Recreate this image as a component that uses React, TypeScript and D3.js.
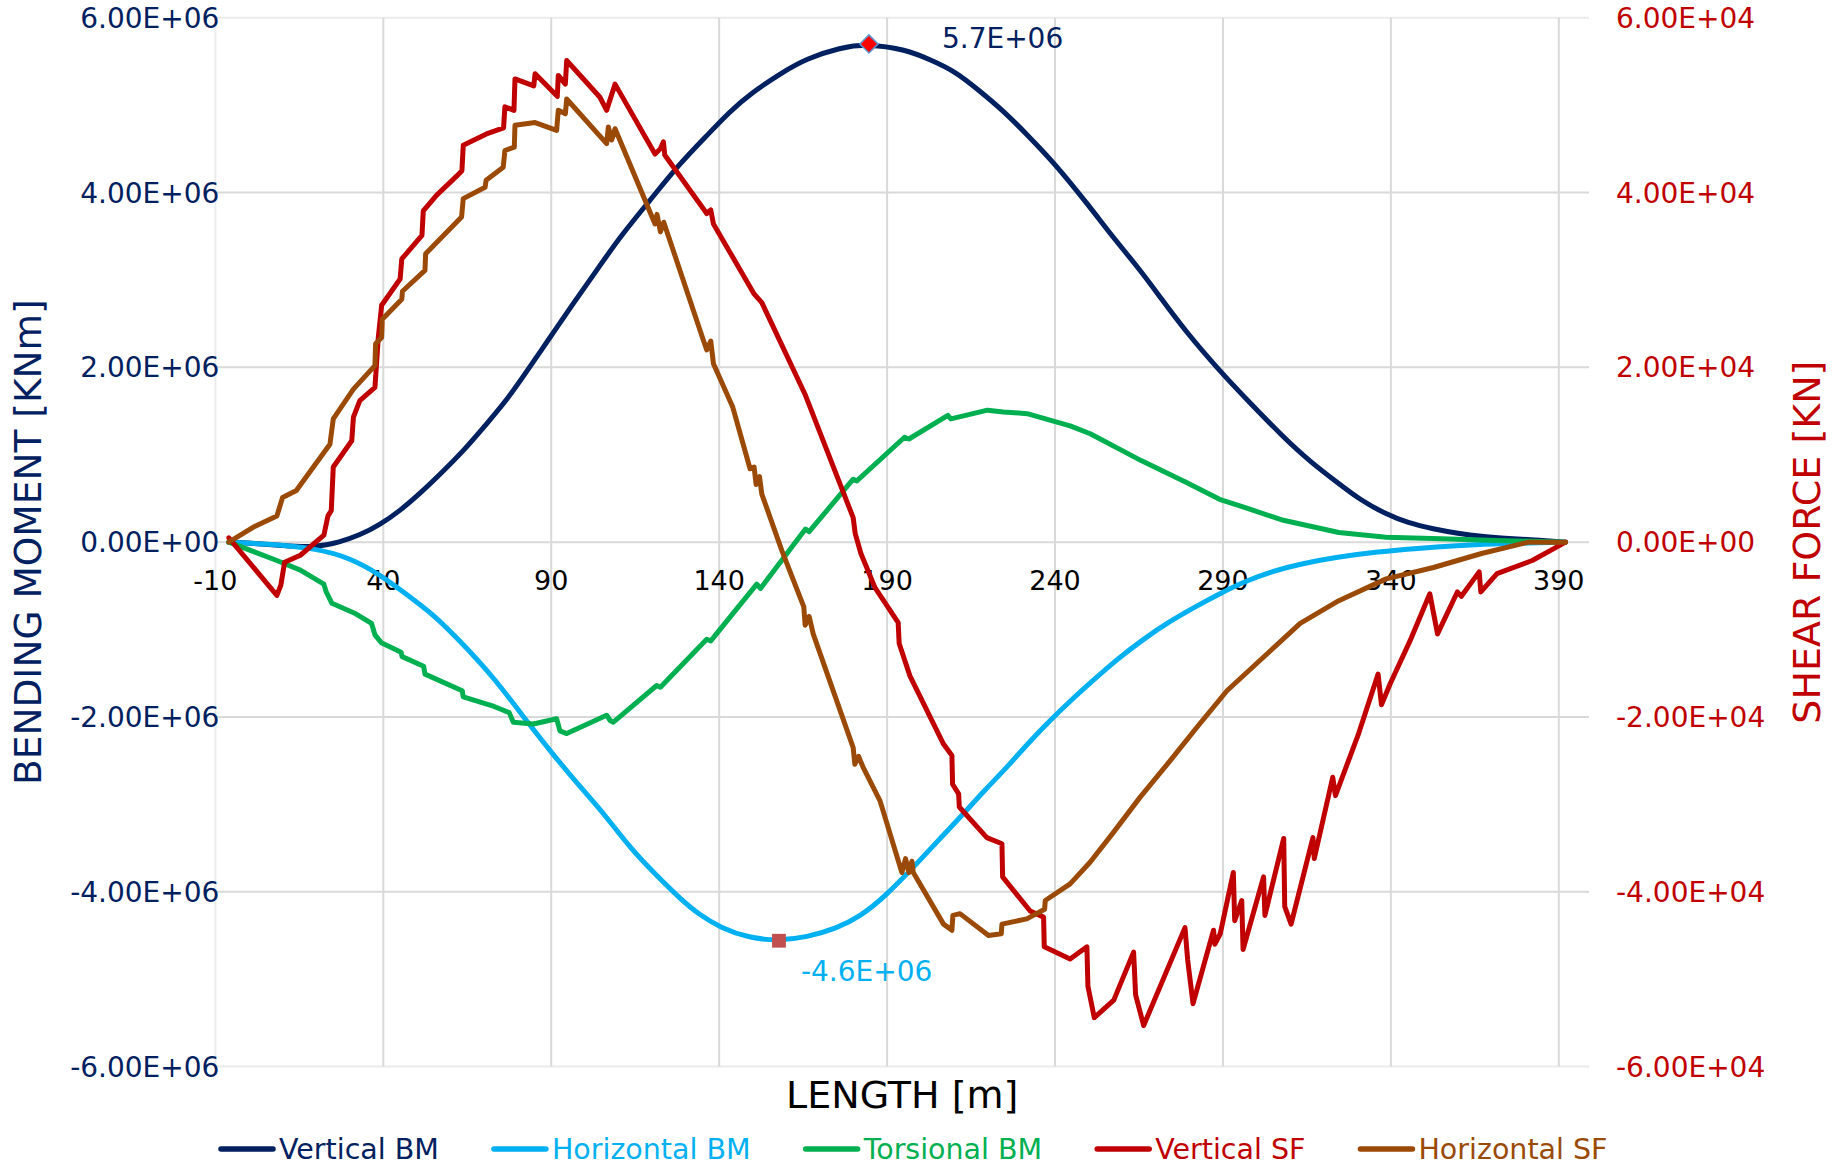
import React, { useEffect, useRef } from 'react'
import * as d3 from 'd3'

const W = 1846
const H = 1165
const BM_UNIT = 1e6
const SF_UNIT = 1e4

// [length m, value / unit]
const verticalBM = [
  [-6, 0], [0, -0.01], [10, -0.04], [20, -0.06], [27, 0.0], [33, 0.08], [39, 0.2], [45, 0.36],
  [51, 0.56], [57, 0.78], [64, 1.05], [70, 1.32], [76.7, 1.62], [83, 1.97], [89.6, 2.34], [96, 2.7],
  [103.5, 3.11], [111, 3.52], [119.4, 3.91], [128, 4.32], [136.3, 4.65], [143, 4.92], [149.2, 5.13],
  [159, 5.38], [166, 5.53], [176, 5.66], [184.6, 5.7], [195, 5.64], [203, 5.52], [210.5, 5.38],
  [217, 5.18], [224.5, 4.94], [232, 4.65], [240, 4.33], [250.5, 3.83], [257, 3.5], [264.6, 3.15],
  [271, 2.82], [278.7, 2.42], [289, 1.96], [297.4, 1.62], [308, 1.2], [316, 0.92], [324.5, 0.67],
  [331, 0.48], [338.6, 0.32], [345, 0.22], [352.7, 0.15], [360, 0.1], [367, 0.064], [374, 0.045],
  [381, 0.03], [392, 0]
]

const horizontalBM = [
  [-6, 0], [5, -0.02], [20, -0.07], [30, -0.18], [39, -0.37], [47, -0.6], [55.3, -0.84],
  [62.8, -1.13], [73, -1.55], [83.7, -2.1], [91, -2.45], [98.6, -2.8], [106, -3.12], [113.5, -3.5],
  [121, -3.8], [128.4, -4.08], [134, -4.26], [140.3, -4.41], [149, -4.53], [157.8, -4.56],
  [166, -4.52], [175, -4.42], [182, -4.28], [189.3, -4.06], [199.8, -3.64], [206, -3.38],
  [212.7, -3.11], [219, -2.84], [225.6, -2.58], [232, -2.3], [238.5, -2.04], [245, -1.8],
  [251.4, -1.58], [258.5, -1.34], [266.3, -1.11], [274, -0.91], [282.2, -0.73], [289.5, -0.58],
  [297.1, -0.44], [305, -0.33], [313, -0.25], [324, -0.17], [336.2, -0.11], [348, -0.07],
  [359.8, -0.04], [370, -0.02], [381, -0.01], [392, 0]
]

const torsionalBM = [
  [-6, 0], [8.3, -0.21], [15.3, -0.32], [22.3, -0.48], [23, -0.57], [24.7, -0.7], [31.8, -0.82],
  [36.5, -0.93], [37.5, -1.06], [39.4, -1.15], [45.3, -1.26], [45.6, -1.31], [52, -1.42],
  [52.4, -1.51], [63.5, -1.7], [63.8, -1.77], [73, -1.88], [77.5, -1.95], [78.7, -2.06],
  [84.7, -2.08], [91.6, -2.02], [92.6, -2.16], [94.6, -2.19], [106.5, -1.98], [107.5, -2.04],
  [108.5, -2.06], [121.4, -1.64], [122.5, -1.66], [136.3, -1.11], [137.5, -1.13], [151.2, -0.48],
  [152.3, -0.53], [165.7, 0.15], [166.8, 0.12], [179.9, 0.72], [181, 0.7], [195.2, 1.2],
  [196.5, 1.18], [208.1, 1.45], [209, 1.41], [219.9, 1.51], [224.6, 1.49], [231.7, 1.47],
  [244.5, 1.33], [250.5, 1.24], [265.8, 0.93], [278.7, 0.69], [289, 0.49], [296.2, 0.4],
  [308, 0.25], [324.5, 0.11], [338.6, 0.056], [355, 0.04], [371.6, 0.02], [392, 0]
]

const verticalSF = [
  [-6, 0.05], [8.3, -0.61], [9.5, -0.49], [10.6, -0.23], [15.3, -0.15], [22.3, 0.08], [23.5, 0.3],
  [24.5, 0.36], [25.1, 0.86], [30.6, 1.16], [31.1, 1.43], [33, 1.62], [37.5, 1.77], [38.5, 2.34],
  [39.5, 2.71], [45, 3.01], [45.5, 3.24], [51.5, 3.51], [51.9, 3.79], [55.9, 3.97], [61.9, 4.19],
  [63.4, 4.25], [63.8, 4.54], [70.7, 4.67], [75.8, 4.74], [76.2, 4.98], [78.9, 4.94], [79.2, 5.3],
  [84.8, 5.22], [85.2, 5.36], [91.8, 5.1], [92.1, 5.34], [94.2, 5.24], [94.6, 5.51], [104.5, 5.09],
  [106.5, 4.94], [109, 5.24], [120.9, 4.44], [122.5, 4.5], [123.4, 4.58], [123.8, 4.43],
  [136.3, 3.76], [137.5, 3.8], [138.3, 3.64], [149.2, 2.92], [150.4, 2.84], [152.7, 2.74],
  [165.7, 1.68], [179.9, 0.28], [180.5, 0.1], [182.2, -0.13], [186.4, -0.52], [193.3, -0.92],
  [193.6, -1.16], [196.8, -1.53], [206.8, -2.31], [209.3, -2.44], [209.5, -2.77], [211.3, -2.88],
  [211.5, -3.03], [219.7, -3.38], [224.2, -3.45], [224.4, -3.83], [232.6, -4.22], [236.6, -4.29],
  [236.8, -4.63], [244.5, -4.77], [249.5, -4.63], [249.8, -5.08], [251.7, -5.44], [257.5, -5.24],
  [263.4, -4.69], [264, -5.18], [266.4, -5.53], [278.7, -4.41], [279.5, -4.78], [281.1, -5.28],
  [287.2, -4.44], [287.6, -4.6], [289.2, -4.48], [293.1, -3.78], [293.5, -4.33], [295.6, -4.1],
  [296, -4.66], [302.1, -3.83], [302.5, -4.27], [308.1, -3.39], [308.4, -4.17], [310.3, -4.37],
  [316.8, -3.38], [317.2, -3.62], [322.7, -2.69], [323.5, -2.9], [330.4, -2.19], [336.2, -1.51],
  [337.2, -1.86], [339.8, -1.62], [345.7, -1.13], [351.6, -0.59], [353.9, -1.05], [359.8, -0.57],
  [361, -0.62], [366.3, -0.34], [366.8, -0.57], [371.6, -0.36], [382.1, -0.21], [389.2, -0.06],
  [392, 0]
]

const horizontalSF = [
  [-6, 0], [1.2, 0.17], [8.3, 0.3], [10, 0.51], [14.1, 0.59], [24.1, 1.12], [25.1, 1.41],
  [31.1, 1.75], [37.5, 2.02], [37.7, 2.27], [39.5, 2.34], [39.7, 2.55], [45.5, 2.78], [45.7, 2.87],
  [52.4, 3.11], [52.6, 3.3], [63.3, 3.72], [63.8, 3.93], [70.3, 4.06], [70.6, 4.14], [75.7, 4.29],
  [76.2, 4.48], [79, 4.52], [79.2, 4.77], [85.2, 4.8], [91.6, 4.71], [92.1, 4.94], [94.2, 4.9],
  [94.6, 5.07], [106.5, 4.56], [107, 4.75], [108, 4.6], [109, 4.73], [120.9, 3.64], [121.5, 3.75],
  [122.5, 3.55], [123.5, 3.66], [135.3, 2.31], [136.3, 2.2], [137.5, 2.3], [138.3, 2.04],
  [144, 1.55], [149.2, 0.84], [150.4, 0.86], [151, 0.66], [152, 0.75], [152.7, 0.55],
  [158.7, -0.1], [165.2, -0.74], [165.6, -0.95], [166.8, -0.85], [168, -1.05], [179.9, -2.35],
  [180.4, -2.54], [181.5, -2.45], [182.8, -2.57], [187.9, -2.96], [194.4, -3.78], [195.5, -3.62],
  [196.5, -3.78], [197.4, -3.65], [197.8, -3.78], [206.8, -4.37], [209.3, -4.44], [209.6, -4.27],
  [211.7, -4.25], [220.2, -4.5], [224, -4.48], [224.2, -4.37], [231.6, -4.31], [236.9, -4.2],
  [237.1, -4.1], [244.5, -3.91], [250.5, -3.66], [257.4, -3.32], [265.3, -2.92], [274.3, -2.5],
  [282.2, -2.12], [291.2, -1.7], [303.1, -1.28], [313, -0.93], [324.5, -0.67], [338.6, -0.42],
  [352.7, -0.29], [367, -0.13], [381, 0.0], [392, 0]
]

const seriesNames = ['Vertical BM', 'Horizontal BM', 'Torsional BM', 'Vertical SF', 'Horizontal SF']
const seriesColors = ['#002060', '#00B0F0', '#00B050', '#C00000', '#9A4A06']
const lengthTicks = d3.range(-10, 391, 50)
const bmTicks = [-6, -4, -2, 0, 2, 4, 6]
const sfTicks = [-6, -4, -2, 0, 2, 4, 6]

const FONT = 'DejaVu Sans, Verdana, sans-serif'

function sci(v: number, digits: number) {
  const [m, e] = v.toExponential(digits).split('e')
  const sign = e[0] === '-' ? '-' : '+'
  const ex = e.replace(/[+-]/, '').padStart(2, '0')
  return `${m}E${sign}${ex}`
}

function Chart() {
  const ref = useRef<SVGSVGElement>(null)

  useEffect(() => {
    const svg = d3.select(ref.current)
    svg.selectAll('*').remove()

    const left = 215.4
    const right = 1589
    const top = 17.7
    const bottom = 1066.6

    const x = d3.scaleLinear().domain([-10, 399]).range([left, right])
    const yL = d3.scaleLinear().domain([-6 * BM_UNIT, 6 * BM_UNIT]).range([bottom, top])
    const yR = d3.scaleLinear().domain([-6 * SF_UNIT, 6 * SF_UNIT]).range([bottom, top])

    const grid = svg.append('g')
    grid
      .selectAll('line.h')
      .data(bmTicks)
      .enter()
      .append('line')
      .attr('x1', left)
      .attr('x2', right)
      .attr('y1', d => yL(d * BM_UNIT))
      .attr('y2', d => yL(d * BM_UNIT))
      .attr('stroke', d => (Math.abs(d) === 6 ? '#EBEBEB' : '#D9D9D9'))
      .attr('stroke-width', 2)
    grid
      .selectAll('line.v')
      .data(lengthTicks)
      .enter()
      .append('line')
      .attr('x1', d => x(d))
      .attr('x2', d => x(d))
      .attr('y1', top)
      .attr('y2', bottom)
      .attr('stroke', d => (d === -10 ? '#EBEBEB' : '#D9D9D9'))
      .attr('stroke-width', 2)

    // left axis labels
    svg
      .append('g')
      .selectAll('text')
      .data(bmTicks)
      .enter()
      .append('text')
      .attr('x', left + 4)
      .attr('y', d => yL(d * BM_UNIT))
      .attr('dy', '0.36em')
      .attr('text-anchor', 'end')
      .attr('fill', '#002060')
      .style('font', `28px ${FONT}`)
      .text(d => sci(d * BM_UNIT, 2))

    // right axis labels
    svg
      .append('g')
      .selectAll('text')
      .data(sfTicks)
      .enter()
      .append('text')
      .attr('x', right + 27)
      .attr('y', d => yR(d * SF_UNIT))
      .attr('dy', '0.36em')
      .attr('fill', '#C00000')
      .style('font', `28px ${FONT}`)
      .text(d => sci(d * SF_UNIT, 2))

    // x labels next to the zero line
    svg
      .append('g')
      .selectAll('text')
      .data(lengthTicks)
      .enter()
      .append('text')
      .attr('x', d => x(d))
      .attr('y', yL(0) + 48)
      .attr('text-anchor', 'middle')
      .attr('fill', '#000')
      .style('font', `27px ${FONT}`)
      .text(d => d)

    // titles
    svg
      .append('text')
      .attr('transform', `translate(41,${(top + bottom) / 2}) rotate(-90)`)
      .attr('text-anchor', 'middle')
      .attr('fill', '#002060')
      .style('font', `37.5px ${FONT}`)
      .text('BENDING MOMENT [KNm]')
    svg
      .append('text')
      .attr('transform', `translate(1820,${(top + bottom) / 2}) rotate(-90)`)
      .attr('text-anchor', 'middle')
      .attr('fill', '#C00000')
      .style('font', `38px ${FONT}`)
      .text('SHEAR FORCE [KN]')
    svg
      .append('text')
      .attr('x', (left + right) / 2)
      .attr('y', 1108)
      .attr('text-anchor', 'middle')
      .attr('fill', '#000')
      .style('font', `38px ${FONT}`)
      .text('LENGTH [m]')

    // series
    const bmSmooth = d3
      .line<number[]>()
      .curve(d3.curveBasis)
      .x(d => x(d[0]))
      .y(d => yL(d[1] * BM_UNIT))
    const bmLine = d3
      .line<number[]>()
      .x(d => x(d[0]))
      .y(d => yL(d[1] * BM_UNIT))
    const sfLine = d3
      .line<number[]>()
      .x(d => x(d[0]))
      .y(d => yR(d[1] * SF_UNIT))

    const series = [
      { data: verticalBM, line: bmSmooth },
      { data: horizontalBM, line: bmSmooth },
      { data: torsionalBM, line: bmLine },
      { data: verticalSF, line: sfLine },
      { data: horizontalSF, line: sfLine }
    ]
    svg
      .append('g')
      .selectAll('path')
      .data(series)
      .enter()
      .append('path')
      .attr('d', d => d.line(d.data))
      .attr('fill', 'none')
      .attr('stroke', (d, i) => seriesColors[i])
      .attr('stroke-width', 5)
      .attr('stroke-linejoin', 'round')
      .attr('stroke-linecap', 'round')

    // max / min markers
    const maxV = verticalBM.reduce((a, b) => (b[1] > a[1] ? b : a))
    const minH = horizontalBM.reduce((a, b) => (b[1] < a[1] ? b : a))
    const mx = x(maxV[0])
    const my = yL(maxV[1] * BM_UNIT)
    svg
      .append('path')
      .attr('d', d3.symbol(d3.symbolSquare, 165)())
      .attr('transform', `translate(${mx},${my}) rotate(45)`)
      .attr('fill', '#FF0000')
      .attr('stroke', '#5B9BD5')
      .attr('stroke-width', 1.5)
    svg
      .append('text')
      .attr('x', mx + 73)
      .attr('y', my + 4.5)
      .attr('fill', '#002060')
      .style('font', `28px ${FONT}`)
      .text(sci(maxV[1] * BM_UNIT, 1))

    const nx = x(minH[0])
    const ny = yL(minH[1] * BM_UNIT)
    svg
      .append('path')
      .attr('d', d3.symbol(d3.symbolSquare, 190)())
      .attr('transform', `translate(${nx},${ny})`)
      .attr('fill', '#C0504D')
    svg
      .append('text')
      .attr('x', nx + 22)
      .attr('y', ny + 40)
      .attr('fill', '#00B0F0')
      .style('font', `28px ${FONT}`)
      .text(sci(minH[1] * BM_UNIT, 1))

    // legend
    const legend = svg.append('g')
    let lx = 219
    const ly = 1149
    seriesNames.forEach((name, i) => {
      legend
        .append('line')
        .attr('x1', lx + 2)
        .attr('x2', lx + 54)
        .attr('y1', ly)
        .attr('y2', ly)
        .attr('stroke', seriesColors[i])
        .attr('stroke-width', 5.5)
        .attr('stroke-linecap', 'round')
      const t = legend
        .append('text')
        .attr('x', lx + 60)
        .attr('y', ly + 9.5)
        .attr('fill', seriesColors[i])
        .style('font', `28.5px ${FONT}`)
        .text(name)
      const w = (t.node() as SVGTextElement).getComputedTextLength()
      lx += 60 + w + 53
    })
  }, [])

  return (
    <svg
      ref={ref}
      width={W}
      height={H}
      style={{ position: 'absolute', left: 0, top: 0, background: '#fff' }}
    />
  )
}

export default function App() {
  return <Chart />
}
